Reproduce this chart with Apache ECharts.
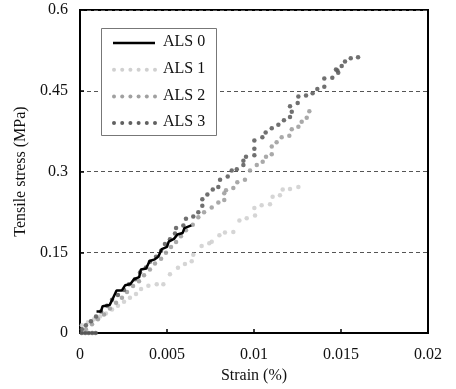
<!DOCTYPE html>
<html><head><meta charset="utf-8">
<script src="https://cdn.jsdelivr.net/npm/echarts@6/dist/echarts.min.js"></script>
<style>html,body{margin:0;padding:0;background:#fff}#c{width:456px;height:389px}</style>
</head><body><div id="c"></div>
<script>
var seriesNames = ['ALS 0', 'ALS 1', 'ALS 2', 'ALS 3'];
var xTicks = [0, 0.005, 0.01, 0.015, 0.02];
var yTicks = [0, 0.15, 0.3, 0.45, 0.6];

var als0 = [[0.00095,0.040],[0.0012,0.040],[0.0013,0.050],[0.0017,0.052],[0.0019,0.065],[0.0021,0.079],[0.0024,0.079],[0.0026,0.089],[0.0029,0.091],[0.0031,0.100],[0.0034,0.104],[0.0035,0.118],[0.0038,0.120],[0.0040,0.134],[0.0043,0.137],[0.0045,0.142],[0.0047,0.156],[0.0050,0.160],[0.0051,0.170],[0.0054,0.175],[0.0056,0.183],[0.0059,0.186],[0.0060,0.195],[0.0064,0.200]];

var als1 = [[0.01255,0.2715],[0.01207,0.2678],[0.01165,0.2667],[0.01149,0.2558],[0.01107,0.2533],[0.01092,0.2395],[0.01044,0.2376],[0.01002,0.2322],[0.01006,0.2182],[0.00958,0.2133],[0.00916,0.2091],[0.00881,0.1878],[0.00833,0.1867],[0.00801,0.1818],[0.00757,0.1696],[0.00743,0.1667],[0.00699,0.1618],[0.00651,0.1455],[0.00642,0.1333],[0.00603,0.1285],[0.00563,0.1213],[0.00517,0.1091],[0.00479,0.0909],[0.00441,0.0909],[0.00393,0.0878],[0.00351,0.0818],[0.00322,0.0727],[0.00287,0.0655],[0.00253,0.0582],[0.00218,0.0509],[0.00184,0.0436],[0.00149,0.0364],[0.00115,0.0309],[0.00080,0.0255],[0.00046,0.0200],[0.00011,0.0145]];

var als2 = [[0.01318,0.4122],[0.01303,0.4000],[0.01274,0.3927],[0.01255,0.3831],[0.01217,0.3787],[0.01203,0.3667],[0.01159,0.3636],[0.01130,0.3545],[0.01102,0.3467],[0.01102,0.3322],[0.01069,0.3273],[0.01050,0.3182],[0.01016,0.3122],[0.00977,0.3018],[0.00948,0.2849],[0.00904,0.2800],[0.00881,0.2696],[0.00839,0.2655],[0.00829,0.2595],[0.00829,0.2473],[0.00795,0.2424],[0.00757,0.2333],[0.00713,0.2242],[0.00680,0.2151],[0.00648,0.2013],[0.00609,0.1909],[0.00580,0.1800],[0.00552,0.1691],[0.00523,0.1600],[0.00494,0.1491],[0.00466,0.1382],[0.00431,0.1291],[0.00402,0.1182],[0.00368,0.1073],[0.00339,0.0964],[0.00305,0.0873],[0.00270,0.0764],[0.00241,0.0655],[0.00207,0.0564],[0.00172,0.0455],[0.00138,0.0345],[0.00103,0.0255],[0.00069,0.0164],[0.00034,0.0073]];

var als3 = [[0.01598,0.5122],[0.01556,0.5104],[0.01523,0.5042],[0.01504,0.4958],[0.01479,0.4878],[0.01471,0.4896],[0.01484,0.4836],[0.01450,0.4740],[0.01404,0.4727],[0.01404,0.4576],[0.01364,0.4533],[0.01337,0.4455],[0.01299,0.4413],[0.01255,0.4395],[0.01251,0.4273],[0.01207,0.4213],[0.01217,0.4109],[0.01207,0.4013],[0.01172,0.3951],[0.01140,0.3867],[0.01102,0.3805],[0.01067,0.3727],[0.01048,0.3636],[0.01002,0.3576],[0.01002,0.3424],[0.01002,0.3304],[0.00954,0.3273],[0.00939,0.3200],[0.00939,0.3122],[0.00901,0.3042],[0.00872,0.3018],[0.00849,0.2909],[0.00805,0.2849],[0.00795,0.2715],[0.00763,0.2667],[0.00732,0.2576],[0.00703,0.2485],[0.00703,0.2364],[0.00680,0.2242],[0.00651,0.2164],[0.00609,0.2122],[0.00594,0.2000],[0.00552,0.1951],[0.00546,0.1849],[0.00517,0.1745],[0.00488,0.1655],[0.00466,0.1527],[0.00437,0.1418],[0.00402,0.1327],[0.00379,0.1218],[0.00345,0.1127],[0.00316,0.1000],[0.00282,0.0909],[0.00253,0.0800],[0.00218,0.0709],[0.00184,0.0618],[0.00155,0.0509],[0.00121,0.0400],[0.00092,0.0309],[0.00063,0.0218],[0.00034,0.0145],[0.00011,0.0073],[0.0001,0],[0.0003,0],[0.0005,0],[0.0007,0],[0.0009,0]];

var colors = ['#000000', '#d0d0d0', '#a0a0a0', '#606060'];
var FONT = '"Liberation Serif","Times New Roman",serif';

var chart = echarts.init(document.getElementById('c'), null, {renderer: 'canvas'});

// legend drawn as graphics
var legendEls = [{
  type: 'rect', left: 101, top: 28, z: 100,
  shape: {width: 115, height: 107},
  style: {fill: '#fff', stroke: '#777', lineWidth: 1}
}];
seriesNames.forEach(function (name, i) {
  var cy = 43 + i * 26.7;
  if (i === 0) {
    legendEls.push({type: 'line', z: 101, shape: {x1: 113, y1: cy, x2: 155, y2: cy}, style: {stroke: '#000', lineWidth: 2.5}});
  } else {
    for (var k = 0; k < 6; k++) {
      legendEls.push({type: 'circle', z: 101, shape: {cx: 114 + k * 8.2, cy: cy, r: 2}, style: {fill: colors[i]}});
    }
  }
  legendEls.push({type: 'text', z: 101, left: 163, top: cy - 9,
    style: {text: name, font: '16px ' + FONT, fill: '#111'}});
});

function scatterSeries(name, data, color) {
  return {name: name, type: 'scatter', data: data, symbol: 'circle', symbolSize: 4.5,
    itemStyle: {color: color, opacity: 0.9}, silent: true, animation: false};
}

chart.setOption({
  animation: false,
  grid: {left: 80, right: 28, top: 10, bottom: 49, show: true, borderColor: '#000', borderWidth: 2, backgroundColor: 'transparent'},
  xAxis: {
    type: 'value', min: xTicks[0], max: xTicks[xTicks.length - 1], interval: xTicks[1] - xTicks[0],
    name: 'Strain (%)', nameLocation: 'middle', nameGap: 34,
    nameTextStyle: {fontFamily: FONT, fontSize: 16, color: '#111'},
    axisLine: {show: true, lineStyle: {color: '#000', width: 2}},
    axisTick: {show: true, inside: true, length: 4, lineStyle: {color: '#000', width: 1.5}},
    axisLabel: {fontFamily: FONT, fontSize: 16, color: '#111', margin: 14,
      formatter: function (v) { return String(v); }},
    splitLine: {show: false}
  },
  yAxis: {
    type: 'value', min: yTicks[0], max: yTicks[yTicks.length - 1], interval: yTicks[1] - yTicks[0],
    name: 'Tensile stress (MPa)', nameLocation: 'middle', nameGap: 47,
    nameTextStyle: {fontFamily: FONT, fontSize: 16, color: '#111'},
    axisLine: {show: true, lineStyle: {color: '#000', width: 2}},
    axisTick: {show: true, inside: true, length: 4, lineStyle: {color: '#000', width: 1.5}},
    axisLabel: {fontFamily: FONT, fontSize: 16, color: '#111', margin: 12,
      formatter: function (v) { return String(Math.round(v * 100) / 100); }},
    splitLine: {show: true, lineStyle: {color: '#555', width: 1, type: [4, 3]}}
  },
  series: [
    scatterSeries(seriesNames[1], als1, colors[1]),
    scatterSeries(seriesNames[2], als2, colors[2]),
    scatterSeries(seriesNames[3], als3, colors[3]),
    {name: seriesNames[0], type: 'line', data: als0, showSymbol: false, symbol: 'none', z: 5,
      lineStyle: {color: colors[0], width: 2.5}, silent: true, animation: false}
  ],
  graphic: legendEls
});
</script></body></html>
